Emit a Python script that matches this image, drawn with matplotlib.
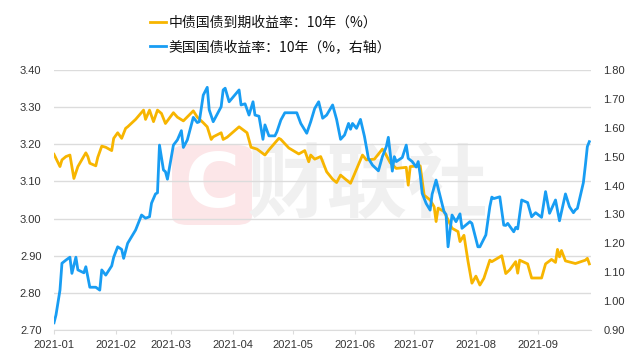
import matplotlib
matplotlib.use("Agg")
import matplotlib.pyplot as plt
import matplotlib.dates as mdates
from matplotlib.patches import FancyBboxPatch
from matplotlib.lines import Line2D
import pandas as pd

plt.rcParams["font.family"] = ["Noto Sans CJK SC", "DejaVu Sans"]

# 中债国债到期收益率：10年（%）, left axis
cn_dates = [
    "2021-01-01", "2021-01-04", "2021-01-05", "2021-01-07", "2021-01-09", "2021-01-11",
    "2021-01-13", "2021-01-17", "2021-01-18", "2021-01-19", "2021-01-22", "2021-01-23",
    "2021-01-25", "2021-01-27", "2021-01-30", "2021-01-31", "2021-02-02", "2021-02-04",
    "2021-02-06", "2021-02-07", "2021-02-11", "2021-02-15", "2021-02-16", "2021-02-18",
    "2021-02-20", "2021-02-22", "2021-02-24", "2021-02-26", "2021-03-02", "2021-03-04",
    "2021-03-07", "2021-03-12", "2021-03-14", "2021-03-17", "2021-03-19", "2021-03-21",
    "2021-03-22", "2021-03-26", "2021-03-27", "2021-03-29", "2021-04-04", "2021-04-08",
    "2021-04-10", "2021-04-13", "2021-04-17", "2021-04-19", "2021-04-24", "2021-04-25",
    "2021-04-29", "2021-05-04", "2021-05-07", "2021-05-09", "2021-05-10", "2021-05-12",
    "2021-05-15", "2021-05-18", "2021-05-21", "2021-05-23", "2021-05-25", "2021-05-27",
    "2021-05-30", "2021-06-01", "2021-06-05", "2021-06-07", "2021-06-11", "2021-06-15",
    "2021-06-16", "2021-06-19", "2021-06-22", "2021-06-27", "2021-06-28", "2021-06-29",
    "2021-07-04", "2021-07-06", "2021-07-09", "2021-07-11", "2021-07-12", "2021-07-13",
    "2021-07-16", "2021-07-20", "2021-07-23", "2021-07-24", "2021-07-26", "2021-07-28",
    "2021-07-30", "2021-08-01", "2021-08-03", "2021-08-05", "2021-08-08", "2021-08-09",
    "2021-08-14", "2021-08-16", "2021-08-18", "2021-08-21", "2021-08-22", "2021-08-23",
    "2021-08-27", "2021-08-29", "2021-09-03", "2021-09-05", "2021-09-08", "2021-09-10",
    "2021-09-11", "2021-09-12", "2021-09-13", "2021-09-15", "2021-09-20", "2021-09-25",
    "2021-09-26", "2021-09-27",
]
cn_yield = [
    3.173, 3.140, 3.158, 3.167, 3.171, 3.108,
    3.140, 3.177, 3.167, 3.149, 3.142, 3.165,
    3.195, 3.192, 3.183, 3.216, 3.231, 3.216,
    3.243, 3.247, 3.267, 3.292, 3.267, 3.292,
    3.261, 3.292, 3.283, 3.256, 3.285, 3.273,
    3.263, 3.290, 3.273, 3.258, 3.247, 3.213,
    3.220, 3.231, 3.213, 3.219, 3.247, 3.231,
    3.192, 3.187, 3.171, 3.185, 3.216, 3.213,
    3.190, 3.174, 3.183, 3.153, 3.171, 3.160,
    3.167, 3.126, 3.106, 3.097, 3.117, 3.108,
    3.095, 3.120, 3.171, 3.158, 3.160, 3.187,
    3.180, 3.150, 3.135, 3.138, 3.090, 3.140,
    3.142, 3.063, 3.050, 3.032, 2.992, 3.028,
    3.019, 2.974, 2.965, 2.938, 2.955, 2.886,
    2.826, 2.845, 2.821, 2.839, 2.888, 2.884,
    2.900, 2.852, 2.862, 2.884, 2.853, 2.888,
    2.878, 2.840, 2.840, 2.878, 2.890, 2.882,
    2.917, 2.897, 2.914, 2.886, 2.879, 2.888,
    2.893, 2.878,
]

# 美国国债收益率：10年（%，右轴）, right axis
us_dates = [
    "2021-01-01", "2021-01-02", "2021-01-04", "2021-01-05", "2021-01-07", "2021-01-09",
    "2021-01-10", "2021-01-12", "2021-01-13", "2021-01-16", "2021-01-17", "2021-01-19",
    "2021-01-22", "2021-01-24", "2021-01-25", "2021-01-27", "2021-01-30", "2021-01-31",
    "2021-02-02", "2021-02-04", "2021-02-05", "2021-02-07", "2021-02-11", "2021-02-14",
    "2021-02-16", "2021-02-18", "2021-02-19", "2021-02-21", "2021-02-22", "2021-02-23",
    "2021-02-25", "2021-02-26", "2021-02-27", "2021-03-02", "2021-03-04", "2021-03-06",
    "2021-03-07", "2021-03-09", "2021-03-12", "2021-03-14", "2021-03-15", "2021-03-17",
    "2021-03-19", "2021-03-20", "2021-03-22", "2021-03-26", "2021-03-27", "2021-03-28",
    "2021-03-30", "2021-04-04", "2021-04-05", "2021-04-07", "2021-04-09", "2021-04-11",
    "2021-04-12", "2021-04-14", "2021-04-16", "2021-04-17", "2021-04-19", "2021-04-22",
    "2021-04-23", "2021-04-25", "2021-04-27", "2021-05-03", "2021-05-05", "2021-05-08",
    "2021-05-10", "2021-05-12", "2021-05-14", "2021-05-16", "2021-05-18", "2021-05-21",
    "2021-05-23", "2021-05-25", "2021-05-27", "2021-05-29", "2021-05-30", "2021-05-31",
    "2021-06-02", "2021-06-04", "2021-06-06", "2021-06-08", "2021-06-10", "2021-06-13",
    "2021-06-15", "2021-06-17", "2021-06-18", "2021-06-20", "2021-06-21", "2021-06-22",
    "2021-06-25", "2021-06-27", "2021-06-28", "2021-06-30", "2021-07-02", "2021-07-03",
    "2021-07-04", "2021-07-05", "2021-07-07", "2021-07-09", "2021-07-10", "2021-07-12",
    "2021-07-14", "2021-07-16", "2021-07-17", "2021-07-18", "2021-07-20", "2021-07-22",
    "2021-07-24", "2021-07-25", "2021-07-29", "2021-07-30", "2021-08-02", "2021-08-03",
    "2021-08-06", "2021-08-08", "2021-08-09", "2021-08-10", "2021-08-13", "2021-08-15",
    "2021-08-16", "2021-08-17", "2021-08-20", "2021-08-21", "2021-08-22", "2021-08-24",
    "2021-08-27", "2021-08-29", "2021-08-31", "2021-09-03", "2021-09-05", "2021-09-07",
    "2021-09-10", "2021-09-12", "2021-09-15", "2021-09-17", "2021-09-19", "2021-09-20",
    "2021-09-21", "2021-09-24", "2021-09-25", "2021-09-26", "2021-09-27",
]
us_yield = [
    0.925, 0.952, 1.038, 1.131, 1.142, 1.152,
    1.096, 1.152, 1.108, 1.098, 1.119, 1.048,
    1.048, 1.038, 1.108, 1.090, 1.122, 1.152,
    1.188, 1.179, 1.148, 1.200, 1.246, 1.298,
    1.287, 1.292, 1.339, 1.371, 1.375, 1.540,
    1.454, 1.448, 1.422, 1.540, 1.558, 1.590,
    1.532, 1.558, 1.636, 1.618, 1.621, 1.713,
    1.740, 1.662, 1.621, 1.673, 1.731, 1.737,
    1.690, 1.731, 1.679, 1.683, 1.644, 1.690,
    1.644, 1.640, 1.560, 1.610, 1.572, 1.572,
    1.586, 1.627, 1.652, 1.652, 1.615, 1.581,
    1.621, 1.667, 1.690, 1.633, 1.644, 1.679,
    1.629, 1.560, 1.575, 1.615, 1.595, 1.615,
    1.598, 1.629, 1.570, 1.494, 1.471, 1.451,
    1.500, 1.535, 1.567, 1.450, 1.500, 1.483,
    1.497, 1.540, 1.494, 1.483, 1.464, 1.483,
    1.437, 1.373, 1.338, 1.315, 1.370, 1.419,
    1.364, 1.309, 1.300, 1.188, 1.298, 1.275,
    1.302, 1.252, 1.275, 1.269, 1.188, 1.188,
    1.229, 1.327, 1.360, 1.355, 1.361, 1.263,
    1.262, 1.269, 1.240, 1.255, 1.250, 1.350,
    1.341, 1.292, 1.306, 1.290, 1.379, 1.304,
    1.350, 1.278, 1.371, 1.327, 1.306, 1.316,
    1.321, 1.410, 1.470, 1.535, 1.552,
]

cn_label = "中债国债到期收益率：10年（%）"
us_label = "美国国债收益率：10年（%，右轴）"
left_ticks = [2.70, 2.80, 2.90, 3.00, 3.10, 3.20, 3.30, 3.40]
right_ticks = [0.90, 1.00, 1.10, 1.20, 1.30, 1.40, 1.50, 1.60, 1.70, 1.80]

yellow = "#F7B500"
blue = "#189DF3"
grid_c = "#DCDCDC"
text_c = "#333333"

fig = plt.figure(figsize=(6.4, 3.62), dpi=100)
ax1 = fig.add_axes([54 / 640, 1 - 330 / 362, (591 - 54) / 640, 260 / 362])
ax2 = ax1.twinx()

# watermark behind the lines
W, H = 640, 362
ax1.add_patch(FancyBboxPatch((172 / W, 1 - 225 / H), 80 / W, 80 / H,
                             boxstyle="round,pad=0,rounding_size=0.025",
                             transform=fig.transFigure, facecolor="#FCE6E8",
                             edgecolor="none", zorder=0.1))
ax1.text(212 / W, 1 - 186 / H, "C", transform=fig.transFigure, fontsize=54,
         fontweight="bold", color="white", ha="center", va="center",
         family=["DejaVu Sans"], zorder=0.2)
ax1.text(368 / W, 1 - 188 / H, "财联社", transform=fig.transFigure, fontsize=58,
         fontweight="bold", color="#F0F0F0", ha="center", va="center", zorder=0.2)

ax1.plot(pd.to_datetime(cn_dates), cn_yield, color=yellow, lw=2.0, zorder=3)
ax2.plot(pd.to_datetime(us_dates), us_yield, color=blue, lw=2.0, zorder=3)

ax1.set_ylim(2.70, 3.40)
ax1.set_yticks(left_ticks)
ax1.set_yticklabels([f"{v:.2f}" for v in left_ticks])
ax2.set_ylim(0.90, 1.80)
ax2.set_yticks(right_ticks)
ax2.set_yticklabels([f"{v:.2f}" for v in right_ticks])

ax1.set_xlim(pd.Timestamp("2021-01-01"), pd.Timestamp("2021-09-27 20:00"))
ax1.xaxis.set_major_locator(mdates.MonthLocator())
ax1.xaxis.set_major_formatter(mdates.DateFormatter("%Y-%m"))

ax1.set_axisbelow(True)
ax1.grid(axis="y", color=grid_c, lw=1)
for ax in (ax1, ax2):
    for s in ("top", "left", "right", "bottom"):
        ax.spines[s].set_visible(False)
ax1.spines["bottom"].set_visible(True)
ax1.spines["bottom"].set_color(grid_c)

ax1.tick_params(axis="y", length=0, pad=9, labelsize=8, labelcolor=text_c)
ax2.tick_params(axis="y", length=0, pad=9, labelsize=8, labelcolor=text_c)
ax1.tick_params(axis="x", length=3, color=grid_c, pad=4, labelsize=8, labelcolor=text_c)
for lab in ax1.get_xticklabels() + ax1.get_yticklabels() + ax2.get_yticklabels():
    lab.set_family(["Liberation Sans", "DejaVu Sans"])

handles = [Line2D([], [], color=yellow, lw=2), Line2D([], [], color=blue, lw=2)]
fig.legend(handles, [cn_label, us_label], loc="upper left",
           bbox_to_anchor=(137 / W, 1 - 3 / H), frameon=False, fontsize=10,
           handlelength=1.2, handletextpad=0.2, labelspacing=0.75,
           labelcolor="#111111")

fig.savefig("out.png", dpi=100)
